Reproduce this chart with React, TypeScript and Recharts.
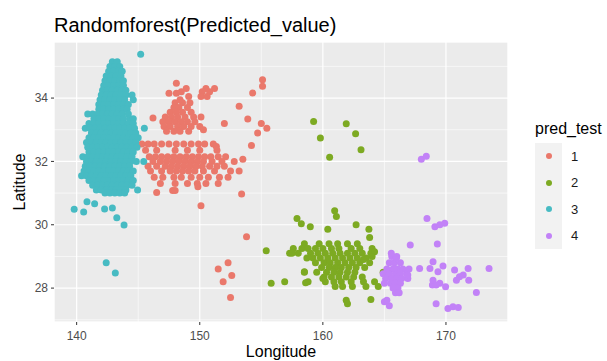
import { ScatterChart, Scatter, XAxis, YAxis, CartesianGrid } from 'recharts';

const FONT = '"Liberation Sans", Arial, Helvetica, sans-serif';

const lonTicks = [140, 150, 160, 170];
const lonMinor = [145, 155, 165];
const latTicks = [28, 30, 32, 34];
const latMinor = [27, 29, 31, 33, 35];

const classes = ['1', '2', '3', '4'];
const colors = ['#EA786B', '#7DAA22', '#47BBC3', '#C282F7'];

// [lat, [lon, lon, ...]] rows for the dense parts, single [lon, lat] points elsewhere
type Row = [number, number[]];
type Pt = [number, number];

const class1Rows: Row[] = [
  [34.3, [148.9, 150.5, 151.2]],
  [34.2, [148.5, 150.2, 150.8]],
  [34.05, [149.1, 150.1, 150.6]],
  [33.85, [148.0, 148.6, 149.2]],
  [33.7, [147.9, 148.3, 149.0]],
  [33.55, [147.6, 148.1, 148.6, 149.3]],
  [33.4, [147.2, 147.7, 148.2, 148.8, 149.5, 150.1]],
  [33.25, [147.0, 147.5, 148.0, 148.5, 149.0, 149.6]],
  [33.1, [147.1, 147.6, 148.2, 148.7, 149.3, 150.0]],
  [32.95, [147.3, 147.9, 148.4, 149.1]],
  [32.55, [145.3, 145.8, 146.3, 146.9, 147.5, 148.1, 148.7, 149.3, 149.9, 150.4, 151.1]],
  [32.35, [145.6, 146.5, 148.0, 149.0, 150.0, 151.4]],
  [32.15, [145.9, 146.4, 146.9, 147.4, 147.9, 148.4, 148.9, 149.4, 149.9, 150.4, 150.9, 151.5, 152.1]],
  [32.0, [146.2, 146.8, 147.3, 147.8, 148.3, 148.8, 149.3, 149.8, 150.3, 151.0, 151.8, 152.8]],
  [31.85, [145.8, 146.5, 147.2, 147.7, 148.2, 148.7, 149.2, 149.7, 150.2, 150.8, 151.4, 152.0]],
  [31.7, [146.0, 146.9, 147.6, 148.1, 148.6, 149.1, 149.6, 150.3, 151.2, 152.5, 153.2]],
  [31.5, [146.3, 147.0, 147.9, 148.5, 149.3, 150.0, 150.7, 151.6, 152.3]],
  [31.3, [146.8, 148.0, 149.0, 149.8, 150.5, 151.5]],
  [31.08, [147.8, 148.0]],
];
const class1Pts: Pt[] = [
  [147.5, 34.15], [148.1, 34.47], [148.1, 34.15], [148.4, 33.95], [146.2, 33.37],
  [150.3, 33.0], [152.0, 33.2], [153.9, 33.34], [155.0, 33.2], [155.45, 33.05],
  [154.7, 32.9], [154.3, 34.16], [153.2, 33.74], [155.1, 34.58], [155.1, 34.37],
  [151.35, 32.47], [154.2, 32.5], [153.5, 32.07], [146.5, 31.02], [149.85, 31.2],
  [153.4, 30.97], [150.1, 30.6], [153.8, 29.62], [151.5, 28.6], [152.3, 28.8],
  [152.6, 28.4], [151.9, 28.2], [152.5, 27.7],
];

const class2Rows: Row[] = [
  [29.4, [158.5, 159.7, 160.5, 161.2, 162.0, 162.8]],
  [29.25, [157.6, 158.3, 158.8, 159.4, 160.0, 160.7, 161.3, 162.3, 163.0, 164.0]],
  [29.1, [157.3, 158.0, 159.0, 159.6, 160.2, 160.8, 161.4, 162.0, 162.6, 163.2, 163.9]],
  [28.95, [158.7, 159.2, 159.8, 160.4, 161.0, 161.6, 162.2, 162.8, 163.5]],
  [28.8, [159.4, 160.1, 160.6, 161.2, 161.8, 162.4, 163.0, 163.8]],
  [28.65, [159.9, 160.5, 161.0, 161.5, 162.1, 162.7, 163.4]],
  [28.5, [158.5, 159.5, 160.3, 160.9, 161.4, 162.0, 162.6, 164.9]],
  [28.35, [160.1, 160.7, 161.3, 161.9, 162.5, 163.2]],
  [28.2, [158.8, 160.2, 160.9, 161.5, 162.3, 163.3, 164.2]],
  [28.05, [161.0, 161.6, 162.4, 163.5, 164.5]],
];
const class2Pts: Pt[] = [
  [159.25, 33.26], [161.9, 33.19], [159.8, 32.74], [162.66, 32.87], [163.1, 32.37],
  [160.55, 32.13], [160.96, 30.44], [161.1, 30.26], [157.9, 30.2], [158.25, 30.03],
  [158.98, 29.94], [160.4, 29.86], [162.7, 30.0], [163.74, 29.86], [163.8, 29.6],
  [155.4, 29.18], [157.5, 29.1], [155.8, 28.15], [156.9, 28.2], [158.6, 28.17],
  [158.5, 28.52], [160.0, 28.3], [161.9, 27.62], [162.0, 27.51], [163.9, 27.64],
  [164.2, 29.15], [163.3, 28.9], [164.0, 29.0],
];

const class3Rows: Row[] = [
  [35.15, [142.9, 143.3]],
  [35.0, [142.7, 143.1, 143.5]],
  [34.85, [142.6, 143.0, 143.4, 143.7]],
  [34.7, [142.4, 142.8, 143.2, 143.6]],
  [34.55, [142.3, 142.7, 143.1, 143.5, 143.8]],
  [34.4, [142.2, 142.6, 143.0, 143.4, 143.8]],
  [34.25, [142.1, 142.5, 142.9, 143.3, 143.7, 144.0]],
  [34.1, [142.0, 142.4, 142.8, 143.2, 143.6, 144.0, 144.5]],
  [33.95, [141.9, 142.3, 142.7, 143.1, 143.5, 143.9, 144.6]],
  [33.8, [141.8, 142.2, 142.6, 143.0, 143.4, 143.8, 144.2]],
  [33.65, [141.8, 142.2, 142.6, 143.0, 143.4, 143.8, 144.1]],
  [33.5, [140.9, 141.3, 141.7, 142.1, 142.5, 142.9, 143.3, 143.7, 144.2]],
  [33.35, [141.4, 141.8, 142.2, 142.6, 143.0, 143.4, 143.8, 144.3, 144.6]],
  [33.2, [141.0, 141.4, 141.8, 142.2, 142.6, 143.0, 143.4, 143.8, 144.2, 144.6]],
  [33.05, [140.7, 141.1, 141.5, 141.9, 142.3, 142.7, 143.1, 143.5, 143.9, 144.3, 144.7, 145.5]],
  [32.9, [141.2, 141.6, 142.0, 142.4, 142.8, 143.2, 143.6, 144.0, 144.4, 144.8]],
  [32.75, [141.0, 141.4, 141.8, 142.2, 142.6, 143.0, 143.4, 143.8, 144.2, 144.6, 145.0]],
  [32.6, [140.8, 141.2, 141.6, 142.0, 142.4, 142.8, 143.2, 143.6, 144.0, 144.4, 144.8]],
  [32.45, [140.9, 141.3, 141.7, 142.1, 142.5, 142.9, 143.3, 143.7, 144.1, 144.5, 144.9]],
  [32.3, [141.0, 141.4, 141.8, 142.2, 142.6, 143.0, 143.4, 143.8, 144.2, 144.6]],
  [32.15, [140.5, 140.9, 141.3, 141.7, 142.1, 142.5, 142.9, 143.3, 143.7, 144.1, 144.5]],
  [32.0, [140.8, 141.2, 141.6, 142.0, 142.4, 142.8, 143.2, 143.6, 144.0, 144.4, 144.85, 145.45]],
  [31.85, [140.7, 141.1, 141.5, 141.9, 142.3, 142.7, 143.1, 143.5, 143.9, 144.3]],
  [31.7, [140.6, 141.0, 141.4, 141.8, 142.2, 142.6, 143.0, 143.4, 143.8, 144.2, 144.6]],
  [31.55, [140.4, 140.8, 141.2, 141.6, 142.0, 142.4, 142.8, 143.2, 143.6, 144.0, 144.4]],
  [31.4, [141.0, 141.4, 141.8, 142.2, 142.6, 143.0, 143.4, 143.8, 144.2, 144.6]],
  [31.25, [141.3, 141.7, 142.1, 142.5, 142.9, 143.3, 143.7, 144.1, 144.5]],
  [31.1, [141.6, 142.0, 142.4, 142.8, 143.2, 143.6, 144.0, 144.95]],
  [31.0, [142.3, 142.7, 143.1, 143.5, 143.9]],
];
const class3Pts: Pt[] = [
  [145.2, 35.38], [139.8, 30.49], [140.57, 30.4], [140.84, 30.73], [141.46, 30.66],
  [142.27, 30.5], [142.9, 30.53], [143.26, 30.22], [143.85, 29.99], [142.4, 28.8],
  [143.14, 28.48],
];

const class4Rows: Row[] = [
  [29.0, [165.6, 166.0]],
  [28.8, [165.4, 165.8, 166.3]],
  [28.6, [165.2, 165.7, 166.1, 166.5, 167.0]],
  [28.45, [164.9, 165.4, 165.9, 166.3, 166.8]],
  [28.3, [165.1, 165.6, 166.0, 166.4, 166.9]],
  [28.15, [165.0, 165.5, 165.9, 166.3]],
  [28.0, [165.7, 166.1]],
  [27.85, [165.9, 166.2]],
];
const class4Pts: Pt[] = [
  [168.0, 32.07], [168.4, 32.16], [168.46, 30.2], [169.1, 29.94], [169.5, 30.0],
  [169.9, 30.05], [167.1, 29.36], [169.3, 29.39], [165.56, 29.1], [165.97, 28.94],
  [167.86, 28.62], [168.95, 28.83], [169.76, 28.7], [169.35, 28.52], [168.7, 28.62],
  [170.7, 28.57], [171.1, 28.36], [170.85, 28.25], [171.4, 28.41], [171.8, 28.62],
  [171.85, 28.25], [173.5, 28.62], [172.47, 27.86], [168.9, 28.1], [169.5, 28.15],
  [169.97, 28.04], [169.2, 27.51], [170.16, 27.36], [170.57, 27.41], [171.0, 27.39],
  [165.0, 27.57], [165.4, 27.44], [165.2, 27.62], [165.83, 28.62], [166.9, 28.41],
  [168.95, 28.25], [169.2, 28.1],
];

const toPoints = (rows: Row[], pts: Pt[]) => [
  ...rows.flatMap(([lat, lons]) => lons.map((lon) => ({ lon, lat }))),
  ...pts.map(([lon, lat]) => ({ lon, lat })),
];

const series = [
  toPoints(class1Rows, class1Pts),
  toPoints(class2Rows, class2Pts),
  toPoints(class3Rows, class3Pts),
  toPoints(class4Rows, class4Pts),
];

const lonDomain = [138.16, 175.04];
const latDomain = [26.93, 35.77];

const tickStyle = { fill: '#4D4D4D', fontSize: 12, fontFamily: FONT };

const Dot = (color: string) => (props: any) => (
  <circle cx={props.cx} cy={props.cy} r={3.5} fill={color} />
);

export default function App() {
  return (
    <div style={{ position: 'absolute', left: 0, top: 0, width: 607, height: 361, background: '#fff', fontFamily: FONT }}>
      <div style={{ position: 'absolute', left: 54, top: 15, fontSize: 20, lineHeight: 1, color: '#000', whiteSpace: 'nowrap' }}>
        Randomforest(Predicted_value)
      </div>
      <ScatterChart width={607} height={361} margin={{ top: 42, right: 99, bottom: 0, left: 0 }}>
        <XAxis xAxisId="minor" type="number" dataKey="lon" domain={lonDomain} ticks={lonMinor} hide allowDataOverflow />
        <YAxis yAxisId="minor" type="number" dataKey="lat" domain={latDomain} ticks={latMinor} hide allowDataOverflow />
        <CartesianGrid xAxisId="minor" yAxisId="minor" fill="#EBEBEB" stroke="#FFFFFF" strokeWidth={0.6} />
        <CartesianGrid stroke="#FFFFFF" strokeWidth={1.2} />
        <XAxis
          type="number"
          dataKey="lon"
          domain={lonDomain}
          ticks={lonTicks}
          allowDataOverflow
          height={39}
          axisLine={false}
          tickSize={3}
          tickMargin={6}
          tickLine={{ stroke: '#333333' }}
          tick={tickStyle}
        />
        <YAxis
          type="number"
          dataKey="lat"
          domain={latDomain}
          ticks={latTicks}
          allowDataOverflow
          width={54}
          axisLine={false}
          tickSize={3}
          tickMargin={3}
          tickLine={{ stroke: '#333333' }}
          tick={tickStyle}
        />
        {series.map((data, i) => (
          <Scatter key={classes[i]} name={classes[i]} data={data} fill={colors[i]} shape={Dot(colors[i])} isAnimationActive={false} />
        ))}
      </ScatterChart>
      <div style={{ position: 'absolute', left: 281, top: 344, transform: 'translateX(-50%)', fontSize: 16, lineHeight: 1, color: '#000', whiteSpace: 'nowrap' }}>
        Longitude
      </div>
      <div style={{ position: 'absolute', left: 20, top: 182, transform: 'translate(-50%, -50%) rotate(-90deg)', fontSize: 16, lineHeight: 1, color: '#000', whiteSpace: 'nowrap' }}>
        Latitude
      </div>
      <div style={{ position: 'absolute', left: 535, top: 121 }}>
        <div style={{ fontSize: 16, lineHeight: 1, color: '#000', whiteSpace: 'nowrap' }}>pred_test</div>
        <div style={{ marginTop: 6 }}>
          {classes.map((c, i) => (
            <div key={c} style={{ display: 'flex', alignItems: 'center', height: 26.5 }}>
              <div style={{ width: 27, height: 26.5, background: '#F2F2F2', display: 'flex', alignItems: 'center', justifyContent: 'center' }}>
                <div style={{ width: 6, height: 6, borderRadius: 3, background: colors[i] }} />
              </div>
              <span style={{ marginLeft: 9, fontSize: 13, color: '#1A1A1A' }}>{c}</span>
            </div>
          ))}
        </div>
      </div>
    </div>
  );
}
